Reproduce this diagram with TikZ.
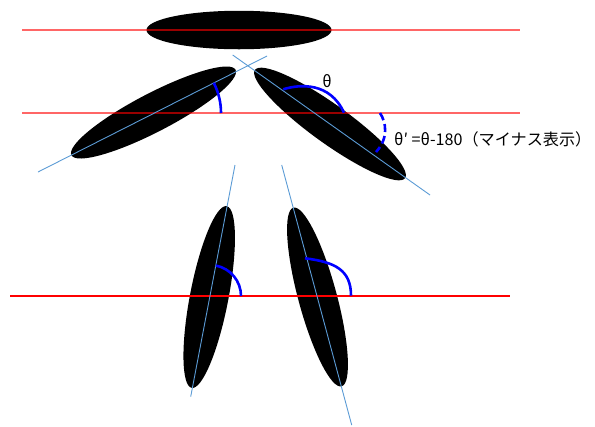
\documentclass[tikz,border=0pt]{standalone}
\usepackage{fontspec}
\usepackage{xcolor}
\usepackage{tikz}
\usetikzlibrary{shapes.geometric, calc}
\setmainfont{Noto Sans CJK JP}
\definecolor{axisblue}{HTML}{5B9BD5}
\definecolor{arcblue}{HTML}{0000FF}

\begin{document}
\begin{tikzpicture}[x=1bp, y=-1bp,
    blade/.style={ellipse, fill=black, inner sep=0pt, minimum width=185bp, minimum height=38.5bp},
    refline/.style={red, draw opacity=0.6, line width=2bp},
    groundline/.style={red, line width=1.5bp},
    axisline/.style={axisblue, line width=0.9bp},
    angarc/.style={arcblue, line width=2.6bp},
    lbl/.style={font=\fontsize{16.2}{18}\selectfont, inner sep=0pt},
  ]
  \useasboundingbox (0,0) rectangle (595,426);

  % blades
  \node[blade] (b1) at (239,30) {};
  \node[blade, rotate=27.5] (b2) at (153.5,112.5) {};
  \node[blade, rotate=-35.8] (b3) at (330,124) {};
  \node[blade, rotate=79.1] (b4) at (209.2,297) {};
  \node[blade, rotate=-74.9] (b5) at (317.5,297) {};

  % horizontal reference lines
  \coordinate (r1a) at (22,30);  \coordinate (r1b) at (520,30);
  \coordinate (r2a) at (22,113); \coordinate (r2b) at (520,113);
  \coordinate (r3a) at (10,296); \coordinate (r3b) at (510,296);
  \draw[refline] (r1a) -- (r1b);
  \draw[refline] (r2a) -- (r2b);
  \draw[groundline] (r3a) -- (r3b);

  % long axes
  \coordinate (x2a) at (38,172);    \coordinate (x2b) at (267,56);
  \coordinate (x3a) at (232.7,55);  \coordinate (x3b) at (430,195);
  \coordinate (x4a) at (235,165);   \coordinate (x4b) at (190.7,396.7);
  \coordinate (x5a) at (281.7,165); \coordinate (x5b) at (351.7,425);
  \draw[axisline] (x2a) -- (x2b);
  \draw[axisline] (x3a) -- (x3b);
  \draw[axisline] (x4a) -- (x4b);
  \draw[axisline] (x5a) -- (x5b);

  % angles
  \coordinate (o2) at (154.5,113);
  \coordinate (o4) at (210,296);
  \draw[angarc] ($(o2)+(-27:66.5)$) arc[start angle=-27, end angle=0, radius=66.5];
  \draw[angarc] (283.3,89.3) .. controls (300,84) and (330,82) .. (344,112.7);
  \draw[angarc, dash pattern=on 8bp off 4bp] (380,113) .. controls (386,122) and (389,138) .. (376,152);
  \draw[angarc] ($(o4)+(-79:31)$) arc[start angle=-79, end angle=0, radius=31];
  \draw[angarc] (305,258.3) .. controls (335,262) and (351,270) .. (351,295.7);

  \node[lbl] (th) at (327,81) {θ};
  \node[lbl, anchor=west] (thp) at (394,139) {θ′ =θ-180（マイナス表示）};
\end{tikzpicture}
\end{document}
